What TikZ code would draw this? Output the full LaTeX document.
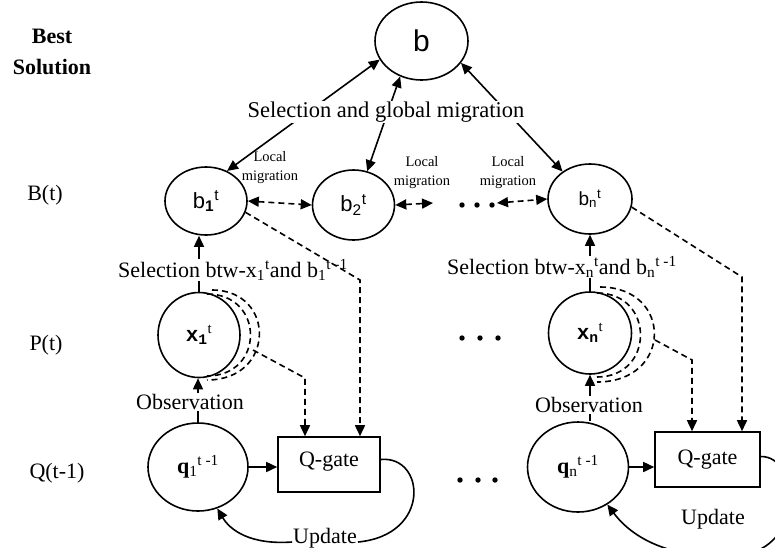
\documentclass[tikz,border=0pt]{standalone}
\usepackage{fontspec}
\setmainfont{Liberation Serif}
\setsansfont{Liberation Sans}
\setmonofont{Liberation Mono}
\usetikzlibrary{shapes.geometric,arrows.meta,calc}
\newcommand{\fsz}[1]{\fontsize{#1}{#1}\selectfont}
\tikzset{
  ln/.style={line width=1.6pt},
  nd/.style={draw, ellipse, ln, inner sep=0pt},
  gate/.style={draw, rectangle, ln, minimum width=102pt, minimum height=55pt, font=\fsz{22}},
  tip/.style={-{Triangle[length=11pt,width=10pt]}},
  arr/.style={ln, tip},
  barr/.style={ln, {Triangle[length=11pt,width=10pt]}-{Triangle[length=11pt,width=10pt]}},
  dsh/.style={ln, dash pattern=on 6pt off 4pt},
  lbl/.style={font=\fsz{22}, inner sep=1pt},
  wlbl/.style={lbl, fill=white},
  loc/.style={font=\fontsize{14.5}{19}\selectfont, align=center, inner sep=0pt},
}
\begin{document}
\begin{tikzpicture}[x=1pt,y=-1pt]
\useasboundingbox (0,0) rectangle (775,547);
\clip (0,0) rectangle (775,547);
\fill[white] (0,0) rectangle (775,547);

% row labels
\node[font=\fontsize{22}{31}\selectfont\bfseries, align=center] (best) at (52,52) {Best\\Solution};
\node[lbl] (Bt) at (45,195) {B(t)};
\node[lbl] (Pt) at (46,345) {P(t)};
\node[lbl] (Qt) at (57,473) {Q(t-1)};

% nodes
\node[nd, minimum width=93pt, minimum height=78pt] (b) at (421.5,41) {\sffamily\fsz{30}b};
\node[nd, minimum width=82pt, minimum height=68pt] (b1) at (206,201) {\sffamily\fsz{22}b\textsubscript{\bfseries 1}\textsuperscript{t}};
\node[nd, minimum width=82pt, minimum height=70pt] (b2) at (353.5,205) {\sffamily\fsz{22}b\textsubscript{2}\textsuperscript{t}};
\node[nd, minimum width=84pt, minimum height=70pt] (bn) at (590,199) {\sffamily\fsz{19}b\textsubscript{n}\textsuperscript{t}};
\node[nd, minimum width=82pt, minimum height=85pt] (x1) at (199,335) {\ttfamily\bfseries\fsz{21}x\textsubscript{1}\textsuperscript{\rmfamily\mdseries t}};
\node[nd, minimum width=83pt, minimum height=82pt] (xn) at (590,333) {\ttfamily\bfseries\fsz{21}x\textsubscript{n}\textsuperscript{\rmfamily\mdseries t}};
\node[nd, minimum width=100pt, minimum height=88pt] (q1) at (198,467) {\fsz{22}\textbf{q}\textsubscript{1}\textsuperscript{t -1}};
\node[nd, minimum width=101pt, minimum height=90pt] (qn) at (578,467) {\fsz{22}\textbf{q}\textsubscript{n}\textsuperscript{t -1}};
\node[gate, text depth=10pt] (g1) at (329,464.5) {Q-gate};
\node[gate, minimum width=105pt, text depth=5pt] (gn) at (707.5,459.5) {Q-gate};

% global migration arrows
\draw[barr] (b.204) -- (b1.55);
\draw[barr] (b.239) -- (b2.68);
\draw[barr] (b.331) -- (bn.135);
\node[wlbl, font=\fsz{22.5}] (glob) at (386,112) {Selection and global migration};

% local migration
\coordinate (d1) at (433,203);
\coordinate (d2) at (497,203);
\draw[barr, dash pattern=on 6pt off 4pt] (b1.east) -- (b2.west);
\draw[barr, dash pattern=on 6pt off 4pt] (b2.east) -- (d1);
\draw[barr, dash pattern=on 6pt off 4pt] (d2) -- (bn.west);
\foreach \xx in {462,477,492} \fill (\xx,205) circle (2.7pt);
\foreach \xx in {462,480,498} \fill (\xx,338) circle (2.7pt);
\foreach \xx in {460,478,495} \fill (\xx,480) circle (2.7pt);
\node[loc] (lm1) at (270,168) {Local\\migration};
\node[loc] (lm2) at (422,173) {Local\\migration};
\node[loc] (lm3) at (508,173) {Local\\migration};

% selection / observation arrows
\draw[arr] (x1.north) -- (x1.north |- b1.south);
\draw[arr] (xn.north) -- (xn.north |- bn.south);
\draw[arr] (q1.north) -- (q1.north |- x1.south);
\draw[arr] (xn.south |- qn.north) -- (xn.south);
\node[wlbl] (sel1) at (233,270) {Selection btw-x\textsubscript{1}\textsuperscript{t}and b\textsubscript{1}\textsuperscript{t -1}};
\node[wlbl] (seln) at (562,267) {Selection btw-x\textsubscript{n}\textsuperscript{t}and b\textsubscript{n}\textsuperscript{t -1}};
\node[wlbl] (obs1) at (190,402) {Observation};
\node[wlbl] (obsn) at (589,405) {Observation};

% q -> gate
\draw[arr] (q1.east) -- (q1.east -| g1.west);
\draw[arr] (qn.east) -- (qn.east -| gn.west);

% dashed arcs around x
\draw[dsh] (207,294) .. controls (265,294) and (265,376) .. (207,376);
\draw[dsh] (212,290) .. controls (276,290) and (276,380) .. (207,380);
\draw[dsh] (597,293) .. controls (655,293) and (655,377) .. (597,377);
\draw[dsh] (600,287) .. controls (673,287) and (673,382) .. (597,382);

% dashed feeds to Q-gates
\coordinate (k1) at (360,280);
\coordinate (x1r) at (253,350);
\coordinate (k2) at (305,378);
\draw[dsh, tip] (b1.-16) -- (k1) -- (k1 |- g1.north);
\draw[dsh, tip] (x1r) -- (k2) -- (k2 |- g1.north);
\coordinate (k3) at (742,277);
\coordinate (xnr) at (655,340);
\coordinate (k4) at (692,360);
\draw[dsh, tip] (bn.-11) -- (k3) -- (k3 |- gn.north);
\draw[dsh, tip] (xnr) -- (k4) -- (k4 |- gn.north);

% update loops
\node[lbl, anchor=base] (u1) at (325,543) {Update};
\node[lbl, anchor=base] (un) at (713,524) {Update};
\draw[ln] ([yshift=5pt]g1.east) .. controls (425,455) and (432,535) .. ([yshift=1pt]u1.base east);
\draw[arr] ([yshift=1pt]u1.base west) .. controls (250,545) and (230,530) .. (q1.-65);
\draw[arr] ([yshift=3pt]gn.east) .. controls (800,456) and (805,548) .. (740,555)
   .. controls (690,560) and (640,548) .. (qn.-52);
\end{tikzpicture}
\end{document}
